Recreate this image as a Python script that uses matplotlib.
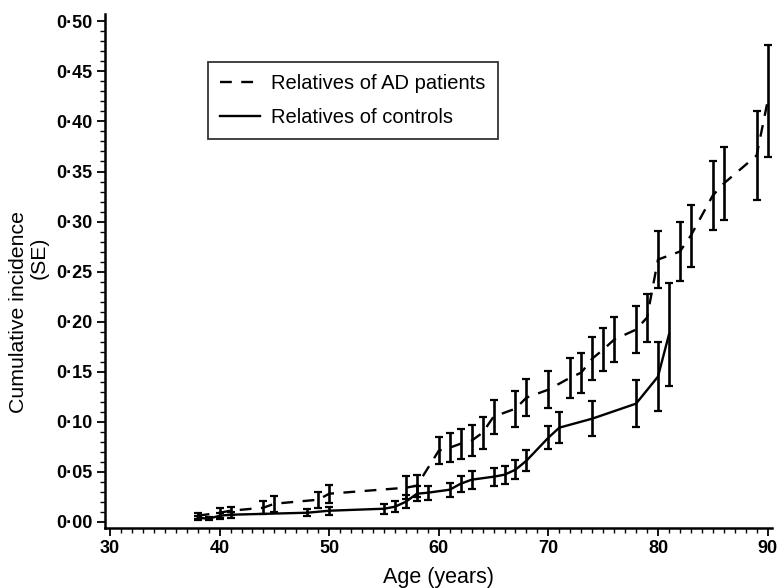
import matplotlib.pyplot as plt
from matplotlib.ticker import FuncFormatter, MultipleLocator

plt.rcParams['font.family'] = ['Liberation Sans', 'DejaVu Sans']

# Relatives of AD patients (dashed)
ad_age = [38, 40, 41, 44, 45, 49, 50, 57, 58, 60, 61, 62, 63, 64, 65, 67, 68,
          70, 72, 73, 74, 75, 76, 78, 79, 80, 82, 83, 85, 86, 89, 90]
ad_inc = [0.006, 0.009, 0.011, 0.014, 0.018, 0.022, 0.028, 0.034, 0.036,
          0.071, 0.074, 0.078, 0.081, 0.089, 0.105, 0.113, 0.124,
          0.132, 0.144, 0.149, 0.163, 0.172, 0.182, 0.192, 0.204, 0.262,
          0.270, 0.286, 0.326, 0.338, 0.366, 0.420]
ad_se = [0.003, 0.005, 0.004, 0.0066, 0.008, 0.008, 0.009, 0.0115, 0.011,
         0.0135, 0.0148, 0.015, 0.0153, 0.016, 0.017, 0.018, 0.0183,
         0.0188, 0.02, 0.02, 0.0213, 0.0218, 0.0223, 0.0233, 0.024, 0.0285,
         0.0295, 0.031, 0.0345, 0.036, 0.044, 0.056]

# Relatives of controls (solid)
ct_age = [38, 39, 40, 41, 48, 50, 55, 56, 57, 58, 59, 61, 62, 63, 65, 66, 67,
          68, 70, 71, 74, 78, 80, 81]
ct_inc = [0.004, 0.003, 0.006, 0.007, 0.009, 0.011, 0.013, 0.015, 0.020,
          0.028, 0.029, 0.032, 0.038, 0.042, 0.045, 0.047, 0.052, 0.061,
          0.084, 0.094, 0.103, 0.118, 0.145, 0.187]
ct_se = [0.002, 0.0015, 0.003, 0.003, 0.0035, 0.004, 0.0048, 0.0055, 0.0066,
         0.0075, 0.007, 0.007, 0.0078, 0.0088, 0.0088, 0.009, 0.0096, 0.0105,
         0.0112, 0.0158, 0.0175, 0.0233, 0.0345, 0.0515]

fig = plt.figure(figsize=(7.77, 5.88), dpi=100)
ax = fig.add_axes([0.1355, 0.1025, 0.858, 0.873])

err_style = dict(fmt='none', ecolor='black', elinewidth=1.9, capsize=2.8,
                 capthick=1.6, zorder=3)
ax.errorbar(ad_age, ad_inc, yerr=ad_se, **err_style)
ax.errorbar(ct_age, ct_inc, yerr=ct_se, **err_style)

ax.plot(ad_age, ad_inc, color='black', lw=1.7, linestyle=(0, (5, 4)),
        label='Relatives of AD patients')
ax.plot(ct_age, ct_inc, color='black', lw=1.7, linestyle='-',
        label='Relatives of controls')

ax.set_xlim(29.57, 90.4)
ax.set_ylim(-0.006, 0.507)

for side in ['top', 'right']:
    ax.spines[side].set_visible(False)
for side in ['left', 'bottom']:
    ax.spines[side].set_linewidth(1.8)

ax.xaxis.set_major_locator(MultipleLocator(10))
ax.xaxis.set_minor_locator(MultipleLocator(1))
ax.yaxis.set_major_locator(MultipleLocator(0.05))
ax.yaxis.set_minor_locator(MultipleLocator(0.01))
ax.yaxis.set_major_formatter(FuncFormatter(lambda v, p: f'{v:.2f}'.replace('.', '\u00b7')))

ax.tick_params(which='major', direction='out', length=6, width=1.3,
               labelsize=13, pad=3)
ax.tick_params(which='minor', direction='out', length=3.5, width=1.0)
for lab in ax.get_xticklabels() + ax.get_yticklabels():
    lab.set_fontweight('bold')

ax.set_xlabel('Age (years)', fontsize=15.5, labelpad=7)

# y label set as two lines, the second one sits beside "incidence"
fig.text(0.0235, 0.4694, 'Cumulative incidence', rotation=90, fontsize=15.3,
         ha='center', va='center')
fig.text(0.0508, 0.561, '(SE)', rotation=90, fontsize=15.3,
         ha='center', va='center')

leg = ax.legend(loc='upper left', bbox_to_anchor=(0.154, 0.907), fontsize=14.5,
                frameon=True, fancybox=False, edgecolor='black',
                handlelength=2.0, handletextpad=0.55, borderpad=0.6,
                labelspacing=0.72, borderaxespad=0)
leg.get_frame().set_linewidth(1.3)

plt.savefig('out.png', dpi=100)
